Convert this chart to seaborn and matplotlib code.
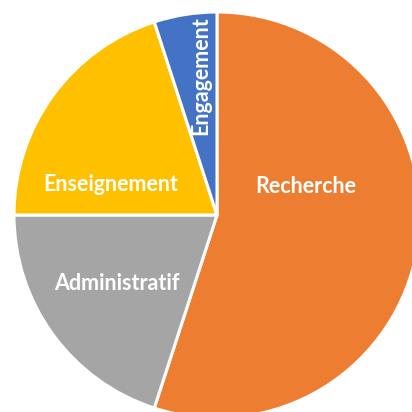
import matplotlib
matplotlib.use("Agg")
import matplotlib.pyplot as plt
import seaborn as sns

categories = ["Recherche", "Administratif", "Enseignement", "Engagement"]
shares = [55, 20, 20, 5]
colors = ["#ED7D31", "#A5A5A5", "#FFC000", "#4472C4"]

# label anchor points (data units, pie radius = 1) and rotation
label_pos = [(0.438, 0.138), (-0.493, -0.335), (-0.522, 0.148), (-0.079, 0.685)]
label_rot = [0, 0, 0, 90]

sns.set_theme(style="white")
plt.rcParams["font.family"] = ["Lato", "DejaVu Sans"]

fig = plt.figure(figsize=(4.12, 4.12), dpi=100)
ax = fig.add_axes([0, 0, 1, 1])

ax.pie(shares, colors=colors, startangle=90, counterclock=False, radius=1.0,
       wedgeprops=dict(edgecolor="white", linewidth=2.2, antialiased=True))

for name, (x, y), rot in zip(categories, label_pos, label_rot):
    ax.text(x, y, name, color="white", fontsize=15.5, fontweight="bold",
            ha="center", va="center", rotation=rot)

# pie centred at (217, 215) px with a 203 px radius; the right and bottom run off the canvas
ax.set_xlim(-217 / 203, (412 - 217) / 203)
ax.set_ylim(-(412 - 215) / 203, 215 / 203)
ax.set_aspect("equal")
ax.axis("off")

fig.savefig("out.png", dpi=100, facecolor="white")
